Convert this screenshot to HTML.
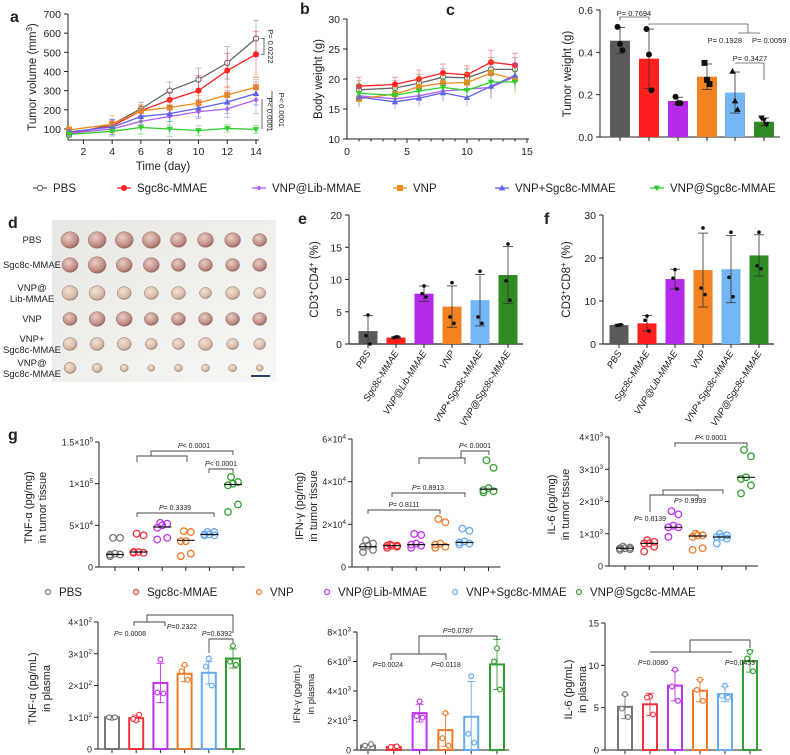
<!DOCTYPE html>
<html><head><meta charset="utf-8">
<style>
html,body{margin:0;padding:0;background:#fff;}
svg{display:block;font-family:"Liberation Sans",Arial,sans-serif;}
</style></head>
<body>
<svg id="fig" width="790" height="755" viewBox="0 0 790 755" xmlns="http://www.w3.org/2000/svg">
<defs>
<linearGradient id="photoBg" x1="0" y1="0" x2="1" y2="1">
<stop offset="0" stop-color="#e9e7e3"/><stop offset="1" stop-color="#f7f7f5"/>
</linearGradient>
<radialGradient id="tumorG" cx="0.4" cy="0.35" r="0.7">
<stop offset="0" stop-color="#eacfc4"/><stop offset="0.7" stop-color="#c08a82"/><stop offset="1" stop-color="#8c5e58"/>
</radialGradient>
<radialGradient id="tumorP" cx="0.4" cy="0.35" r="0.7">
<stop offset="0" stop-color="#f3e3d3"/><stop offset="0.7" stop-color="#d9b8a4"/><stop offset="1" stop-color="#a58c7c"/>
</radialGradient>
</defs>
</svg>
<script>
// ---------- DATA ----------
const aDays=[1,4,6,8,10,12,14];
const aPBS=[70,125,205,300,358,445,572];
const aSgc=[80,115,195,252,300,405,490];
const aLib=[78,100,140,165,190,205,252];
const aVNP=[95,125,195,212,235,278,318];
const aVNPp=[85,110,165,180,208,240,285];
const aVNPa=[72,88,108,100,92,103,98];
const aErrPBS=[10,25,35,45,60,85,95];
const aErrSgc=[10,30,30,40,80,90,120];
const aErrLib=[10,30,30,45,35,45,70];
const aErrVNP=[20,45,30,40,40,45,40];
const aErrVNPp=[10,40,40,40,45,60,60];
const aErrVNPa=[15,25,35,40,25,20,20];
const aYTicks=[100,200,300,400,500,600,700];
const aXTicks=[2,4,6,8,10,12,14];

const bDays=[1,4,6,8,10,12,14];
const bPBS=[18.2,18.5,19.3,20.3,20.2,21.6,21.6];
const bSgc=[18.8,19.1,20.0,21.0,20.7,22.8,22.3];
const bLib=[17.2,16.7,17.2,18.0,18.3,18.6,20.4];
const bVNP=[16.7,17.5,18.7,19.3,19.4,21.0,20.0];
const bVNPp=[17.0,16.2,16.8,17.7,16.9,18.8,20.6];
const bVNPa=[17.6,17.3,18.0,18.6,18.1,19.5,19.5];
const bErr=[1.5,1.2,1.5,1.5,1.5,2.0,2.0];
const bYTicks=[10,15,20,25,30];
const bXTicks=[0,5,10,15];

const cMeans=[0.455,0.37,0.17,0.285,0.21,0.072];
const cSD=[0.062,0.14,0.018,0.06,0.097,0.018];
const cPts=[[0.52,0.44,0.41],[0.51,0.39,0.22],[0.19,0.16,0.16],[0.35,0.27,0.25],[0.31,0.17,0.13],[0.09,0.08,0.06]];
const cYTicks=[0.0,0.2,0.4,0.6];

const eMeans=[2.0,1.0,7.8,5.8,6.8,10.7];
const eSD=[2.4,0.1,1.2,3.2,4.0,4.4];
const ePts=[[4.5,1.3,0],[1.1,1.0,1.1],[9.0,7.8,7.3],[9.5,4.2,3.2],[11.3,4.2,3.2],[15.5,9.8,6.8]];
const eYTicks=[0,5,10,15,20];
const fMeans=[4.4,4.8,15.1,17.2,17.4,20.6];
const fSD=[0.2,1.8,2.3,8.6,7.8,4.8];
const fPts=[[4.4,4.3,4.5],[6.5,5.5,3.0],[17.3,15.3,12.8],[27.0,13.0,11.5],[26.0,15.5,11.0],[26.0,18.2,17.5]];
const fYTicks=[0,10,20,30];
const groups=["PBS","Sgc8c-MMAE","VNP@Lib-MMAE","VNP","VNP+Sgc8c-MMAE","VNP@Sgc8c-MMAE"];

const gTnfPts=[[1.3,1.5,1.5,1.6,3.5,3.5],[1.7,1.7,1.8,1.8,3.8,4.0],[3.3,3.5,4.7,5.0,5.2,5.3],[1.3,1.6,3.1,3.1,4.2,4.3],[3.8,3.8,3.9,3.9,4.2,4.2],[6.6,7.5,9.8,10.0,10.2,10.8]];
const gTnfMed=[1.5,1.8,4.8,3.2,3.9,9.9];
const gIfnPts=[[0.7,0.8,0.95,1.0,1.1,1.25],[0.9,0.95,1.0,1.0,1.0,1.05],[0.9,1.0,1.05,1.1,1.5,1.55],[0.9,0.95,1.05,1.1,2.1,2.25],[1.05,1.1,1.15,1.2,1.7,1.8],[3.5,3.55,3.6,3.7,4.65,5.0]];
const gIfnMed=[0.95,1.0,1.05,1.05,1.15,3.65];
const gIl6Pts=[[0.5,0.52,0.55,0.55,0.57,0.6],[0.45,0.6,0.7,0.7,0.75,0.8],[0.9,1.2,1.2,1.25,1.6,1.7],[0.5,0.55,0.9,0.95,0.95,1.0],[0.7,0.85,0.9,0.9,0.95,1.0],[2.25,2.5,2.7,2.75,3.4,3.6]];
const gIl6Med=[0.55,0.7,1.2,0.93,0.9,2.75];
const gTnfTicks=[0,5e4,1e5,1.5e5];
const gIfnTicks=[0,2e4,4e4,6e4];
const gIl6Ticks=[0,1e3,2e3,3e3,4e3];

const hTnfMeans=[100,97,208,237,240,285];
const hTnfSD=[3,10,62,25,35,30];
const hTnfPts=[[98,100,100],[90,95,108],[282,178,175],[265,245,218],[285,260,200],[325,275,265]];
const hIfnMeans=[0.3,0.2,2.5,1.35,2.25,5.8];
const hIfnSD=[0.1,0.05,0.6,1.1,2.4,1.7];
const hIfnPts=[[0.2,0.3,0.4],[0.2,0.2,0.25],[3.3,2.3,2.2],[2.5,0.8,0.3],[5.0,1.1,0.5],[6.9,6.0,4.1]];
const hIl6Means=[5.1,5.4,7.6,7.0,6.6,10.5];
const hIl6SD=[1.4,1.3,1.8,1.3,0.9,1.3];
const hIl6Pts=[[6.6,4.9,3.9],[6.3,6.2,4.2],[9.5,7.5,5.8],[8.3,7.1,5.8],[7.6,6.4,6.2],[11.6,10.8,9.3]];
const hTnfTicks=[0,100,200,300,400];
const hIfnTicks=[0,2e3,4e3,6e3,8e3];
const hIl6Ticks=[0,5,10,15];

// ---------- HELPERS ----------
const NS="http://www.w3.org/2000/svg";
const svg=document.getElementById('fig');
function add(tag,attrs,name,parent){
  const el=document.createElementNS(NS,tag);
  for(const k in attrs) el.setAttribute(k,attrs[k]);
  
  
  (parent||svg).appendChild(el);
  return el;
}
function txt(x,y,s,name,o){
  o=o||{};
  const el=add('text',{x:x,y:y,'font-size':o.fs||11,'text-anchor':o.a||'start',fill:o.fill||'#222','font-weight':o.fw||'normal','font-style':o.fi||'normal'},name);
  if(o.rot!==undefined) el.setAttribute('transform','rotate('+o.rot+' '+x+' '+y+')');
  el.textContent=s;
  return el;
}
function line(x1,y1,x2,y2,name,c,w){return add('line',{x1:x1,y1:y1,x2:x2,y2:y2,stroke:c||'#222','stroke-width':w||1},name);}
function poly(pts,name,c,w){return add('polyline',{points:pts.map(p=>p.join(',')).join(' '),fill:'none',stroke:c||'#444','stroke-width':w||0.9},name);}
function lin(d0,d1,r0,r1){return v=>r0+(v-d0)*(r1-r0)/(d1-d0);}
function supTxt(x,y,base,exp,name,fs){
  const el=add('text',{x:x,y:y,'font-size':fs||9,'text-anchor':'end',fill:'#222'},name);
  el.appendChild(document.createTextNode(base));
  if(exp!==''){const t=document.createElementNS(NS,'tspan');t.setAttribute('dy','-4');t.setAttribute('font-size',(fs||9)*0.7);t.textContent=exp;el.appendChild(t);}
  return el;
}
function sciParts(v){
  if(v===0) return ['0',''];
  const e=Math.floor(Math.log10(v)+1e-9); const m=+(v/Math.pow(10,e)).toFixed(2);
  return [(m===1?'1':String(m))+'×10',String(e)];
}
function marker(x,y,type,c,name){
  if(type==='oc') return add('circle',{cx:x,cy:y,r:2.6,fill:'#fff',stroke:c,'stroke-width':1.1},name);
  if(type==='fc') return add('circle',{cx:x,cy:y,r:3,fill:c},name);
  if(type==='sq') return add('rect',{x:x-3,y:y-3,width:6,height:6,fill:c},name);
  if(type==='dm') return add('polygon',{points:`${x},${y-2.6} ${x+2.6},${y} ${x},${y+2.6} ${x-2.6},${y}`,fill:c},name);
  if(type==='tu') return add('polygon',{points:`${x},${y-3.4} ${x+3.2},${y+2.4} ${x-3.2},${y+2.4}`,fill:c},name);
  if(type==='td') return add('polygon',{points:`${x},${y+3.4} ${x+3.2},${y-2.4} ${x-3.2},${y-2.4}`,fill:c},name);
}
const C6=['#5b5b5b','#ff1f1f','#b52ae8','#f28222','#74b6f4','#2f8c22'];
const G6=['#777777','#f2303c','#c033f0','#f07a28','#66aaf0','#33a033'];

// ---------- PANEL A ----------
(function(){
  const X=lin(1,14,69,256), Y=lin(100,700,129,14);
  txt(10,22,'a','panel-a-label',{fs:16,fw:'bold'});
  line(68,140,68,14,'a-y-axis'); line(68,140,259,140,'a-x-axis');
  aYTicks.forEach(t=>{line(64,Y(t),68,Y(t),'a-y-tick');txt(61,Y(t)+4,String(t),'a-y-tick-label',{a:'end',fs:10.5});});
  aXTicks.forEach(t=>{line(X(t),140,X(t),144,'a-x-tick');txt(X(t),155,String(t),'a-x-tick-label',{a:'middle',fs:10.5});});
  txt(36,77,'Tumor volume (mm','a-y-title',{fs:11.5,a:'middle',rot:-90});
  const yt=svg.lastChild; const sp=document.createElementNS(NS,'tspan');sp.setAttribute('dy','-4');sp.setAttribute('font-size','8');sp.textContent='3';yt.appendChild(sp);
  const sp2=document.createElementNS(NS,'tspan');sp2.setAttribute('dy','4');sp2.textContent=')';yt.appendChild(sp2);
  txt(163,170,'Time (day)','a-x-title',{fs:11.5,a:'middle'});
  const S=[[aPBS,aErrPBS,'#666','oc'],[aSgc,aErrSgc,'#ff2020','fc'],[aLib,aErrLib,'#b060f0','dm'],[aVNP,aErrVNP,'#f08a20','sq'],[aVNPp,aErrVNPp,'#6060f0','tu'],[aVNPa,aErrVNPa,'#30d030','td']];
  S.forEach((s,si)=>{
    s[0].forEach((v,i)=>{const x=X(aDays[i]);line(x,Y(v-s[1][i]),x,Y(v+s[1][i]),'a-error-bar',s[2],0.8).setAttribute('opacity','0.55');
      line(x-3,Y(v+s[1][i]),x+3,Y(v+s[1][i]),'a-error-cap',s[2],0.8).setAttribute('opacity','0.55');
      line(x-3,Y(v-s[1][i]),x+3,Y(v-s[1][i]),'a-error-cap',s[2],0.8).setAttribute('opacity','0.55');});
    poly(s[0].map((v,i)=>[X(aDays[i]),Y(v)]),'a-series-line',s[2],1.3);
    s[0].forEach((v,i)=>marker(X(aDays[i]),Y(v),s[3],s[2],'a-point'));
  });
  poly([[261,Y(572)],[264,Y(572)],[264,Y(490)],[261,Y(490)]],'a-p-bracket','#444',0.8);
  txt(268,Y(531),'P= 0.0222','a-p-value',{fs:7.5,a:'middle',rot:90});
  line(272,Y(300),272,Y(95),'a-p-line','#444',0.8);
  txt(279,Y(200),'P< 0.0001','a-p-value',{fs:7.5,a:'middle',rot:90});
  line(262,Y(255),262,Y(100),'a-p-line','#444',0.8);
  txt(267,Y(175),'P< 0.0001','a-p-value',{fs:7.5,a:'middle',rot:90});
})();

// ---------- PANEL B ----------
(function(){
  const X=lin(0,15,347,527), Y=lin(10,30,139,19);
  txt(300,14,'b','panel-b-label',{fs:16,fw:'bold'});
  line(347,139,347,19,'b-y-axis'); line(347,139,529,139,'b-x-axis');
  bYTicks.forEach(t=>{line(343,Y(t),347,Y(t),'b-y-tick');txt(340,Y(t)+4,String(t),'b-y-tick-label',{a:'end',fs:10.5});});
  for(let d=1;d<=15;d++){line(X(d),139,X(d),d%5?141.5:143,'b-x-minor-tick');}
  bXTicks.forEach(t=>{txt(X(t),155,String(t),'b-x-tick-label',{a:'middle',fs:10.5});});
  txt(322,79,'Body weight (g)','b-y-title',{fs:11.5,a:'middle',rot:-90});
  const S=[[bPBS,'#666','oc'],[bSgc,'#ff2020','fc'],[bLib,'#b060f0','dm'],[bVNP,'#f08a20','sq'],[bVNPp,'#6060f0','tu'],[bVNPa,'#30d030','td']];
  S.forEach(s=>{
    s[0].forEach((v,i)=>{const x=X(bDays[i]);line(x,Y(v-bErr[i]),x,Y(v+bErr[i]),'b-error-bar',s[1],0.8).setAttribute('opacity','0.5');
      line(x-3,Y(v+bErr[i]),x+3,Y(v+bErr[i]),'b-error-cap',s[1],0.8).setAttribute('opacity','0.5');});
    poly(s[0].map((v,i)=>[X(bDays[i]),Y(v)]),'b-series-line',s[1],1.3);
    s[0].forEach((v,i)=>marker(X(bDays[i]),Y(v),s[2],s[1],'b-point'));
  });
})();

// ---------- PANEL C ----------
(function(){
  const Y=lin(0,0.6,137,10); const xs=[620,649,678,707,735,764];
  txt(446,15,'c','panel-c-label',{fs:16,fw:'bold'});
  line(600,137,600,10,'c-y-axis'); line(600,137,780,137,'c-x-axis');
  cYTicks.forEach(t=>{line(596,Y(t),600,Y(t),'c-y-tick');txt(593,Y(t)+4,t.toFixed(1),'c-y-tick-label',{a:'end',fs:10.5});});
  txt(571,74,'Tumor weight (g)','c-y-title',{fs:11.5,a:'middle',rot:-90});
  const mk=['fc','fc','fc','sq','tu','td'];
  cMeans.forEach((m,i)=>{
    add('rect',{x:xs[i]-10,y:Y(m),width:20,height:137-Y(m),fill:C6[i]},'c-bar');
    line(xs[i],137,xs[i],141,'c-x-tick');
    line(xs[i],Y(m),xs[i],Y(m+cSD[i]),'c-error-bar','#333',0.8);
    line(xs[i]-5,Y(m+cSD[i]),xs[i]+5,Y(m+cSD[i]),'c-error-cap','#333',0.8);
    if(m-cSD[i]>0){line(xs[i],Y(m),xs[i],Y(m-cSD[i]),'c-error-bar','#333',0.8);line(xs[i]-5,Y(m-cSD[i]),xs[i]+5,Y(m-cSD[i]),'c-error-cap','#333',0.8);}
    cPts[i].forEach((p,j)=>marker(xs[i]+(j-1)*2.5,Y(p),mk[i],'#111','c-point'));
  });
  poly([[620,20],[620,17],[649,17],[649,20]],'c-p-bracket','#555',0.8);
  txt(634,16,'P= 0.7694','c-p-value',{fs:7.5,a:'middle'});
  poly([[649,25],[649,24],[748,24],[748,33]],'c-p-bracket','#555',0.8);
  poly([[738,33],[760,33]],'c-p-bracket','#555',0.8);
  txt(742,43,'P= 0.1928','c-p-value',{fs:7.5,a:'end'});
  txt(752,43,'P= 0.0059','c-p-value',{fs:7.5,a:'start'});
  poly([[735,63],[764,63],[764,80]],'c-p-bracket','#555',0.8);
  txt(750,61,'P= 0.3427','c-p-value',{fs:7.5,a:'middle'});
})();

// ---------- TOP LEGEND ----------
(function(){
  const items=[[33,'PBS','#666','oc'],[117,'Sgc8c-MMAE','#ff2020','fc'],[252,'VNP@Lib-MMAE','#b060f0','dm'],[393,'VNP','#f08a20','sq'],[495,'VNP+Sgc8c-MMAE','#6060f0','tu'],[650,'VNP@Sgc8c-MMAE','#30d030','td']];
  items.forEach(it=>{line(it[0],188,it[0]+14,188,'legend-line',it[2],1.3);marker(it[0]+7,188,it[3],it[2],'legend-marker');txt(it[0]+20,192,it[1],'legend-label',{fs:11.5});});
})();

// ---------- PANEL D (photo) ----------
(function(){
  txt(8,228,'d','panel-d-label',{fs:16,fw:'bold'});
  add('rect',{x:52,y:220,width:224,height:162,fill:'url(#photoBg)'},'tumor-photo');
  const rows=[240,265,293,319,344,368];
  const sizes=[[9,9,9,9,8,8,8,7],[8,9,8,8,7,7,7,7],[8,8,7,7,7,6,7,6],[7,8,8,7,7,7,7,7],[7,7,7,6,6,7,6,6],[6,5,4,3.5,4,4,4,3.5]];
  rows.forEach((ry,r)=>{for(let c=0;c<8;c++){
    const cx=70+c*27.1; const s=sizes[r][c];
    add('ellipse',{cx:cx,cy:ry,rx:s,ry:s*0.92,fill:(r<2||(r==3))?'url(#tumorG)':'url(#tumorP)',stroke:'#8a7a74','stroke-width':0.5},'tumor');
  }});
  const lab=[['PBS'],['Sgc8c-MMAE'],['VNP@','Lib-MMAE'],['VNP'],['VNP+','Sgc8c-MMAE'],['VNP@','Sgc8c-MMAE']];
  lab.forEach((l,i)=>{ if(l.length===1) txt(32,rows[i]+3,l[0],'photo-row-label',{fs:9.5,a:'middle'});
    else {txt(32,rows[i]-2,l[0],'photo-row-label',{fs:9.5,a:'middle'});txt(32,rows[i]+9,l[1],'photo-row-label',{fs:9.5,a:'middle'});}});
  line(251,376,270,376,'scale-bar','#2a3c6a',2);
})();

// ---------- PANELS E, F ----------
function barPanel(cfg){
  const Y=lin(0,cfg.max,cfg.y0,cfg.ytop);
  txt(cfg.lx,cfg.ly,cfg.letter,'panel-'+cfg.letter+'-label',{fs:16,fw:'bold'});
  line(cfg.ax,cfg.y0,cfg.ax,cfg.ytop,cfg.letter+'-y-axis'); line(cfg.ax,cfg.y0,cfg.xs[5]+15,cfg.y0,cfg.letter+'-x-axis',"#222",1.2);
  cfg.ticks.forEach(t=>{line(cfg.ax-4,Y(t),cfg.ax,Y(t),cfg.letter+'-y-tick');txt(cfg.ax-7,Y(t)+4,String(t),cfg.letter+'-y-tick-label',{a:'end',fs:10.5});});
  cfg.means.forEach((m,i)=>{
    const x=cfg.xs[i];
    add('rect',{x:x-9.5,y:Y(m),width:19,height:cfg.y0-Y(m),fill:C6[i]},cfg.letter+'-bar');
    line(x,cfg.y0,x,cfg.y0+4,cfg.letter+'-x-tick');
    const hi=m+cfg.sd[i], lo=Math.max(0,m-cfg.sd[i]);
    line(x,Y(lo),x,Y(hi),cfg.letter+'-error-bar','#333',0.8);
    line(x-5,Y(hi),x+5,Y(hi),cfg.letter+'-error-cap','#333',0.8);
    line(x-5,Y(lo),x+5,Y(lo),cfg.letter+'-error-cap','#333',0.8);
    cfg.pts[i].forEach((p,j)=>add('circle',{cx:x+(j===1?-2:j===2?2:0),cy:Y(p),r:1.8,fill:'#111'},cfg.letter+'-point'));
    txt(x+3,cfg.y0+9,groups[i],cfg.letter+'-x-label',{fs:9.5,a:'end',fi:'italic',rot:-58});
  });
  const t=txt(cfg.tx,(cfg.y0+cfg.ytop)/2,'CD3','', {fs:11.5,a:'middle',rot:-90});
  
  const addT=(s,dy,fs)=>{const sp=document.createElementNS(NS,'tspan');if(dy)sp.setAttribute('dy',dy);if(fs)sp.setAttribute('font-size',fs);sp.textContent=s;t.appendChild(sp);};
  addT('+','-4','8');addT(cfg.sub,'4');addT('+','-4','8');addT(' (%)','4');
}
barPanel({letter:'e',lx:298,ly:224,ax:349,y0:344,ytop:215,max:20,ticks:eYTicks,xs:[368,396,424,452,480,508],means:eMeans,sd:eSD,pts:ePts,tx:318,sub:'CD4'});
barPanel({letter:'f',lx:544,ly:224,ax:603,y0:344,ytop:215,max:30,ticks:fYTicks,xs:[619,647,675,703,731,759],means:fMeans,sd:fSD,pts:fPts,tx:570,sub:'CD8'});

// ---------- PANEL G TOP (scatter) ----------
txt(8,440,'g','panel-g-label',{fs:16,fw:'bold'});
function scatterPanel(cfg){
  const Y=lin(0,cfg.max,cfg.y0,cfg.ytop); const sc=cfg.unit;
  line(cfg.ax,cfg.y0,cfg.ax,cfg.ytop,cfg.id+'-y-axis');
  line(cfg.ax,cfg.y0,cfg.x0+5*cfg.step+12,cfg.y0,cfg.id+'-x-axis');
  cfg.ticks.forEach(t=>{line(cfg.ax-4,Y(t),cfg.ax,Y(t),cfg.id+'-y-tick');const p=sciParts(t);supTxt(cfg.ax-6,Y(t)+3.5,p[0],p[1],cfg.id+'-y-tick-label',9);});
  cfg.pts.forEach((arr,i)=>{
    const x=cfg.x0+i*cfg.step;
    line(x,cfg.y0,x,cfg.y0+4,cfg.id+'-x-tick');
    arr.forEach((v,j)=>add('circle',{cx:x+[ -5,5,-5,0,5,-2][j],cy:Y(v*sc),r:3.3,fill:'none',stroke:G6[i],'stroke-width':1.3},cfg.id+'-point'));
    line(x-9,Y(cfg.med[i]*sc),x+9,Y(cfg.med[i]*sc),cfg.id+'-median','#111',1.2);
  });
  txt(cfg.tx,(cfg.y0+cfg.ytop)/2+3,cfg.t1,cfg.id+'-y-title',{fs:11,a:'middle',rot:-90});
  txt(cfg.tx+14,(cfg.y0+cfg.ytop)/2+3,'in tumor tissue',cfg.id+'-y-title-2',{fs:11,a:'middle',rot:-90});
}
scatterPanel({id:'g-tnf',ax:99,y0:567,ytop:442,max:1.5e5,unit:1e4,ticks:gTnfTicks,x0:115,step:23.6,pts:gTnfPts,med:gTnfMed,tx:32,t1:'TNF-α (pg/mg)'});
scatterPanel({id:'g-ifn',ax:352,y0:567,ytop:439,max:6e4,unit:1e4,ticks:gIfnTicks,x0:368,step:24.1,pts:gIfnPts,med:gIfnMed,tx:303,t1:'IFN-γ (pg/mg)'});
scatterPanel({id:'g-il6',ax:609,y0:566,ytop:437,max:4e3,unit:1e3,ticks:gIl6Ticks,x0:625,step:24.2,pts:gIl6Pts,med:gIl6Med,tx:555,t1:'IL-6 (pg/mg)'});
function pLab(x,y,s,name){
  const el=add('text',{x:x,y:y,'font-size':7,'text-anchor':'middle',fill:'#222'},name);
  const t=document.createElementNS(NS,'tspan');t.setAttribute('font-style','italic');t.textContent='P';el.appendChild(t);
  el.appendChild(document.createTextNode(s));
}
poly([[151,456],[151,451],[233,451],[233,455]],'g-tnf-bracket');poly([[137,462],[137,456],[187,456],[187,462]],'g-tnf-bracket');pLab(194,448,'< 0.0001','g-tnf-p');
poly([[209,473],[209,469],[233,469],[233,473]],'g-tnf-bracket');pLab(221,466,'< 0.0001','g-tnf-p');
poly([[137,517],[137,513],[214,513],[214,517]],'g-tnf-bracket');pLab(175,510,'= 0.3339','g-tnf-p');
poly([[419,464],[419,458],[465,458],[465,464]],'g-ifn-bracket');poly([[461,458],[461,451],[489,451],[489,455]],'g-ifn-bracket');pLab(475,448,'< 0.0001','g-ifn-p');
poly([[392,497],[392,493],[465,493],[465,497]],'g-ifn-bracket');pLab(428,490,'= 0.8913','g-ifn-p');
poly([[368,514],[368,510],[440,510],[440,514]],'g-ifn-bracket');pLab(404,507,'= 0.8111','g-ifn-p');
poly([[675,447],[675,443],[747,443],[747,447]],'g-il6-bracket');pLab(711,440,'< 0.0001','g-il6-p');
poly([[650,512],[650,495],[698,495],[698,499]],'g-il6-bracket');poly([[663,495],[663,490],[723,490],[723,494]],'g-il6-bracket');
pLab(650,521,'= 0.8139','g-il6-p');pLab(690,503,'> 0.9999','g-il6-p');
(function(){
  const it=[[48,'PBS',G6[0]],[136,'Sgc8c-MMAE',G6[1]],[259,'VNP',G6[3]],[327,'VNP@Lib-MMAE',G6[2]],[455,'VNP+Sgc8c-MMAE',G6[4]],[579,'VNP@Sgc8c-MMAE',G6[5]]];
  it.forEach(d=>{add('circle',{cx:d[0],cy:592,r:2.5,fill:'none',stroke:d[2],'stroke-width':1.2},'g-legend-marker');txt(d[0]+11,596,d[1],'g-legend-label',{fs:11.5});});
})();

// ---------- PANEL G BOTTOM (open bars) ----------
function openBar(cfg){
  const Y=lin(0,cfg.max,cfg.y0,cfg.ytop); const sc=cfg.unit;
  line(cfg.ax,cfg.y0,cfg.ax,cfg.ytop,cfg.id+'-y-axis');
  line(cfg.ax,cfg.y0,cfg.x0+5*cfg.step+12,cfg.y0,cfg.id+'-x-axis');
  cfg.ticks.forEach(t=>{line(cfg.ax-4,Y(t),cfg.ax,Y(t),cfg.id+'-y-tick');
    if(cfg.plain){txt(cfg.ax-6,Y(t)+3.5,String(t),cfg.id+'-y-tick-label',{a:'end',fs:9.5});}
    else{const p=sciParts(t);supTxt(cfg.ax-6,Y(t)+3.5,p[0],p[1],cfg.id+'-y-tick-label',9);}});
  cfg.means.forEach((m,i)=>{
    const x=cfg.x0+i*cfg.step, c=G6[i];
    line(x,cfg.y0,x,cfg.y0+4,cfg.id+'-x-tick');
    add('rect',{x:x-7,y:Y(m*sc),width:14,height:cfg.y0-Y(m*sc),fill:'none',stroke:c,'stroke-width':2},cfg.id+'-bar');
    const hi=(m+cfg.sd[i])*sc, lo=Math.max(0,m-cfg.sd[i])*sc;
    line(x,Y(lo),x,Y(hi),cfg.id+'-error-bar',c,0.9);
    line(x-4,Y(hi),x+4,Y(hi),cfg.id+'-error-cap',c,0.9);line(x-4,Y(lo),x+4,Y(lo),cfg.id+'-error-cap',c,0.9);
    cfg.pts[i].forEach((v,j)=>add('circle',{cx:x+[0,-3,3][j],cy:Y(v*sc),r:2.4,fill:'#fff',stroke:c,'stroke-width':1.2},cfg.id+'-point'));
  });
  txt(cfg.tx,(cfg.y0+cfg.ytop)/2+3,cfg.t1,cfg.id+'-y-title',{fs:cfg.tfs||11,a:'middle',rot:-90});
  txt(cfg.tx+14,(cfg.y0+cfg.ytop)/2+3,'in plasma',cfg.id+'-y-title-2',{fs:cfg.tfs||11,a:'middle',rot:-90});
}
openBar({id:'h-tnf',ax:98,y0:749,ytop:622,max:400,unit:1,ticks:hTnfTicks,x0:112,step:24.2,means:hTnfMeans,sd:hTnfSD,pts:hTnfPts,tx:36,t1:'TNF-α (pg/mL)'});
openBar({id:'h-ifn',ax:357,y0:750,ytop:632,max:8e3,unit:1e3,ticks:hIfnTicks,x0:368,step:25.8,means:hIfnMeans,sd:hIfnSD,pts:hIfnPts,tx:300,t1:'IFN-γ (pg/mL)',tfs:9.5});
openBar({id:'h-il6',ax:605,y0:750,ytop:623,max:15,unit:1,ticks:hIl6Ticks,x0:625,step:25,means:hIl6Means,sd:hIl6SD,pts:hIl6Pts,tx:572,t1:'IL-6 (pg/mL)',plain:true});
poly([[147,622],[147,615],[233,615],[233,633]],'h-tnf-bracket');poly([[134,626],[134,622],[165,622],[165,626]],'h-tnf-bracket');
pLab(130,636,'= 0.0008','h-tnf-p');pLab(182,629,'=0.2322','h-tnf-p');
poly([[209,653],[209,639],[233,639],[233,643]],'h-tnf-bracket');pLab(217,636,'=0.6392','h-tnf-p');
poly([[419,654],[419,636],[497,636],[497,640]],'h-ifn-bracket');poly([[391,660],[391,654],[446,654],[446,660]],'h-ifn-bracket');
pLab(458,633,'=0.0787','h-ifn-p');pLab(388,667,'=0.0024','h-ifn-p');pLab(446,667,'=0.0118','h-ifn-p');
poly([[690,652],[690,640],[750,640],[750,648]],'h-il6-bracket');line(650,652,732,652,'h-il6-bracket','#444',0.9);
pLab(653,665,'=0.0080','h-il6-p');pLab(740,665,'=0.0453','h-il6-p');
</script>
</body></html>
